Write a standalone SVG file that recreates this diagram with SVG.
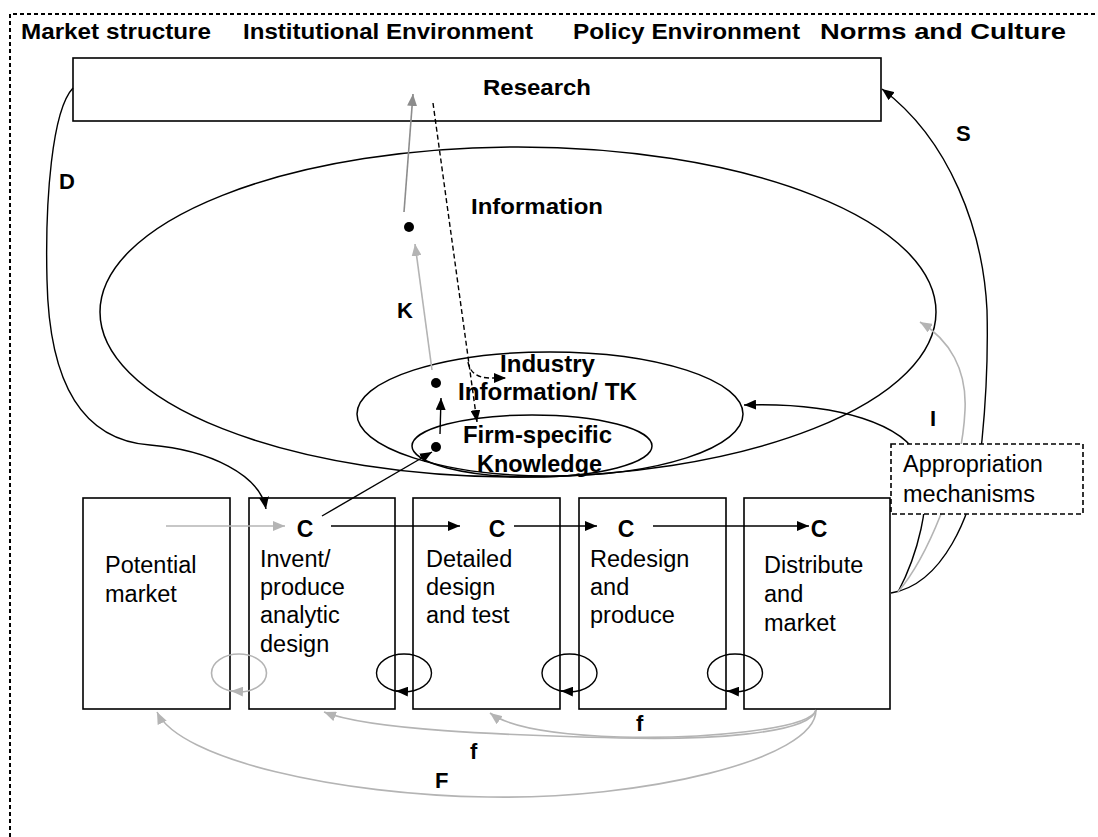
<svg xmlns="http://www.w3.org/2000/svg" width="1098" height="837" viewBox="0 0 1098 837">
<style>
text{font-family:"Liberation Sans",Arial,sans-serif;fill:#000}
.hd{font-size:21.5px;font-weight:bold}
.lb{font-size:23px;font-weight:bold}
.tx{font-size:23.5px}
.c{font-size:23px;font-weight:bold;text-anchor:middle}
.lt{font-size:22px;font-weight:bold}
.ln{fill:none;stroke:#000;stroke-width:1.4}
.gl{fill:none;stroke:#b4b4b4;stroke-width:1.6}
.gd{fill:none;stroke:#8c8c8c;stroke-width:1.6}
.dash{fill:none;stroke:#000;stroke-width:1.4;stroke-dasharray:5,3}
.box{fill:none;stroke:#000;stroke-width:1.6}
.ell{fill:none;stroke:#000;stroke-width:1.5}
</style>
<defs>
<marker id="ab" viewBox="0 0 12 10" refX="12" refY="5" markerWidth="12" markerHeight="10" markerUnits="userSpaceOnUse" orient="auto"><path d="M0,0 L12,5 L0,10 z" fill="#000"/></marker>
<marker id="ag" viewBox="0 0 12 10" refX="12" refY="5" markerWidth="12" markerHeight="10" markerUnits="userSpaceOnUse" orient="auto"><path d="M0,0 L12,5 L0,10 z" fill="#b4b4b4"/></marker>
<marker id="ad" viewBox="0 0 12 10" refX="12" refY="5" markerWidth="12" markerHeight="10" markerUnits="userSpaceOnUse" orient="auto"><path d="M0,0 L12,5 L0,10 z" fill="#8c8c8c"/></marker>
</defs>
<rect width="1098" height="837" fill="#fff"/>
<g id="frame">
<path d="M10,837 L10,14 L1097,14" fill="none" stroke="#000" stroke-width="2" stroke-dasharray="4,3"/>
</g>
<g id="headers">
<text class="hd" x="21" y="39" textLength="190" lengthAdjust="spacingAndGlyphs">Market structure</text>
<text class="hd" x="243" y="39" textLength="290" lengthAdjust="spacingAndGlyphs">Institutional Environment</text>
<text class="hd" x="573" y="39" textLength="227" lengthAdjust="spacingAndGlyphs">Policy Environment</text>
<text class="hd" x="820" y="39" textLength="246" lengthAdjust="spacingAndGlyphs">Norms and Culture</text>
</g>
<g id="research">
<rect class="box" x="73" y="58" width="808" height="63"/>
<text class="hd" x="483" y="95" textLength="108" lengthAdjust="spacingAndGlyphs">Research</text>
</g>
<g id="information">
<ellipse class="ell" cx="518" cy="312" rx="418" ry="165"/>
<text class="hd" x="471" y="214" textLength="132" lengthAdjust="spacingAndGlyphs">Information</text>
</g>
<g id="industry">
<ellipse class="ell" cx="550" cy="414" rx="193" ry="62"/>
<text class="lb" x="500" y="372" textLength="95" lengthAdjust="spacingAndGlyphs">Industry</text>
<text class="lb" x="458" y="400" textLength="179" lengthAdjust="spacingAndGlyphs">Information/ TK</text>
</g>
<g id="firm">
<ellipse class="ell" cx="532" cy="446" rx="120" ry="31"/>
<text class="lb" x="463" y="443" textLength="149" lengthAdjust="spacingAndGlyphs">Firm-specific</text>
<text class="lb" x="477" y="472" textLength="125" lengthAdjust="spacingAndGlyphs">Knowledge</text>
</g>
<g id="dots">
<circle cx="409" cy="227" r="5"/>
<circle cx="436" cy="383" r="5"/>
<circle cx="436" cy="447" r="5"/>
</g>
<g id="potential-market">
<rect class="box" x="83" y="498" width="147" height="211"/>
<text class="tx" x="105" y="573">Potential</text>
<text class="tx" x="105" y="602">market</text>
</g>
<g id="invent">
<rect class="box" x="249" y="498" width="146" height="211"/>
<text class="c" x="305" y="537">C</text>
<text class="tx" x="260" y="567">Invent/</text>
<text class="tx" x="260" y="595">produce</text>
<text class="tx" x="260" y="623">analytic</text>
<text class="tx" x="260" y="652">design</text>
</g>
<g id="detailed">
<rect class="box" x="413" y="498" width="147" height="211"/>
<text class="c" x="497" y="537">C</text>
<text class="tx" x="426" y="567">Detailed</text>
<text class="tx" x="426" y="595">design</text>
<text class="tx" x="426" y="623">and test</text>
</g>
<g id="redesign">
<rect class="box" x="579" y="498" width="147" height="211"/>
<text class="c" x="626" y="537">C</text>
<text class="tx" x="590" y="567">Redesign</text>
<text class="tx" x="590" y="595">and</text>
<text class="tx" x="590" y="623">produce</text>
</g>
<g id="distribute">
<rect class="box" x="744" y="498" width="146" height="211"/>
<text class="c" x="819" y="537">C</text>
<text class="tx" x="764" y="573">Distribute</text>
<text class="tx" x="764" y="602">and</text>
<text class="tx" x="764" y="631">market</text>
</g>
<g id="connectors">
<path class="ln" d="M73,88 C52,110 45,200 47,280 C49,380 80,440 150,445 C210,450 260,475 266,509" marker-end="url(#ab)"/>
<path class="ln" d="M891,593 C940,585 975,520 982,440 C986,400 988,350 987,310 C983,230 950,140 882,89" marker-end="url(#ab)"/>
<path class="ln" d="M898,592 C915,560 935,500 920,460 C905,425 840,402 744,405" marker-end="url(#ab)"/>
<path class="gl" d="M898,592 C925,560 962,480 965,410 C967,370 950,340 920,322" marker-end="url(#ag)"/>
<path class="gl" d="M432,370 L415,244" marker-end="url(#ag)"/>
<path class="gd" d="M404,212 L413,94" marker-end="url(#ad)"/>
<path class="ln" d="M440,434 L441,398" marker-end="url(#ab)"/>
<path class="ln" d="M322,516 L432,452" marker-end="url(#ab)"/>
<path class="dash" d="M433,103 L477,422" marker-end="url(#ab)"/>
<path class="dash" d="M468,362 Q471,378 490,378 L506,378" marker-end="url(#ab)"/>
<path class="gl" d="M166,526 L285,526" marker-end="url(#ag)"/>
<path class="ln" d="M331,526 L460,526" marker-end="url(#ab)"/>
<path class="ln" d="M514,526 L597,526" marker-end="url(#ab)"/>
<path class="ln" d="M653,526 L809,526" marker-end="url(#ab)"/>
<ellipse cx="239" cy="673" rx="27.5" ry="19" fill="none" stroke="#b4b4b4" stroke-width="1.6"/>
<path class="gl" d="M242,691.5 L231,691" marker-end="url(#ag)"/>
<ellipse class="ln" cx="404" cy="673" rx="27.5" ry="19"/>
<path class="ln" d="M407,691.5 L396,691" marker-end="url(#ab)"/>
<ellipse class="ln" cx="569.5" cy="673" rx="27.5" ry="19"/>
<path class="ln" d="M572,691.5 L561,691" marker-end="url(#ab)"/>
<ellipse class="ln" cx="735" cy="673" rx="27.5" ry="19"/>
<path class="ln" d="M738,691.5 L727,691" marker-end="url(#ab)"/>
<path class="gl" d="M816,710 C816,760 640,800 488,797 C340,795 180,760 157,712" marker-end="url(#ag)"/>
<path class="gl" d="M816,710 C810,735 700,740 620,738 C500,735 370,730 324,712" marker-end="url(#ag)"/>
<path class="gl" d="M816,710 C810,730 700,739 620,737 C560,735 510,728 490,713" marker-end="url(#ag)"/>
</g>
<g id="appropriation">
<rect x="891" y="444" width="192" height="70" fill="#fff" stroke="#000" stroke-width="1.6" stroke-dasharray="5,3"/>
<text class="tx" x="903" y="472">Appropriation</text>
<text class="tx" x="903" y="502">mechanisms</text>
</g>
<g id="labels">
<text class="lt" x="59" y="189">D</text>
<text class="lt" x="397" y="318">K</text>
<text class="lt" x="956" y="141">S</text>
<text class="lt" x="930" y="426">I</text>
<text class="lt" x="636" y="731">f</text>
<text class="lt" x="470" y="759">f</text>
<text class="lt" x="435" y="788">F</text>
</g>
</svg>
